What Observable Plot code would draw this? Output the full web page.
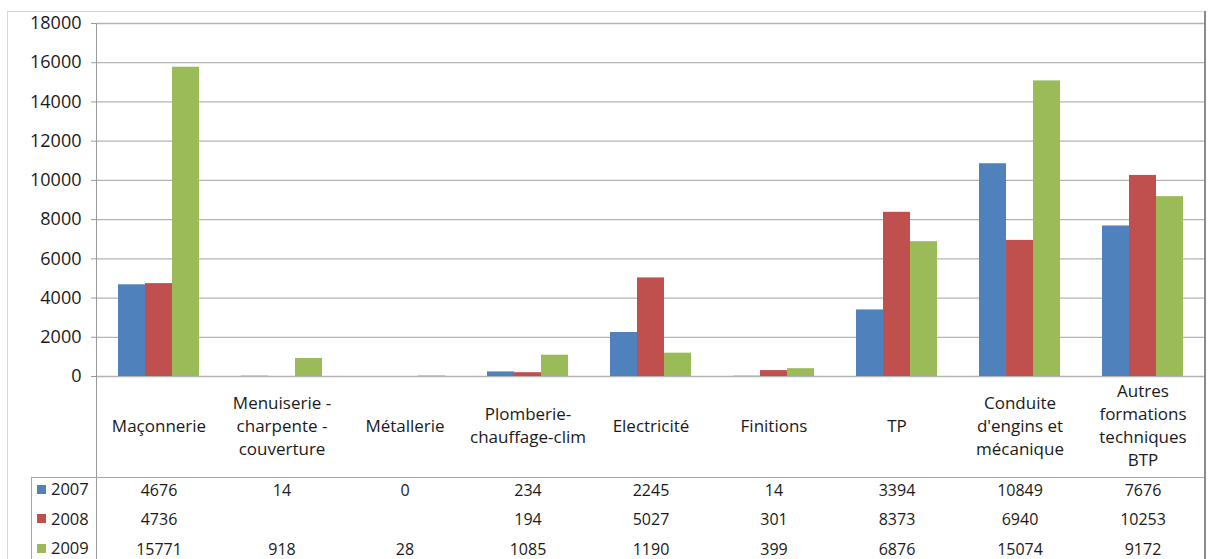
<!DOCTYPE html>
<html>
<head>
<meta charset="utf-8">
<script src="https://cdn.jsdelivr.net/npm/d3@7"></script>
<script src="https://cdn.jsdelivr.net/npm/@observablehq/plot@0.6"></script>
<style>
  html, body { margin: 0; padding: 0; background: #ffffff; }
  #chart { position: relative; width: 1208px; height: 559px; overflow: hidden; font-family: "Open Sans", sans-serif; color: #1a1a1a; }
  #chart svg { position: absolute; left: 0; top: 0; overflow: visible; }
  .line { position: absolute; }
  .legend-row { position: absolute; left: 37px; height: 18px; display: flex; align-items: center; font-size: 16.5px; line-height: 18px; }
  .legend-row span.sw { display: inline-block; width: 9px; height: 9px; margin-right: 5px; }
  #chart svg [aria-label^="y-axis"] line,
  #chart svg [aria-label^="y-axis"] path { stroke: #9a9a9a; }
</style>
</head>
<body>
<div id="chart"></div>
<script>
// Training categories (line breaks are the wrapped label lines)
const categories = [
  "Maçonnerie",
  "Menuiserie -\ncharpente -\ncouverture",
  "Métallerie",
  "Plomberie-\nchauffage-clim",
  "Electricité",
  "Finitions",
  "TP",
  "Conduite\nd'engins et\nmécanique",
  "Autres\nformations\ntechniques\nBTP"
];

const years = ["2007", "2008", "2009"];

// Yearly counts per category (null = no value reported)
const values2007 = [4676, 14, 0, 234, 2245, 14, 3394, 10849, 7676];
const values2008 = [4736, null, null, 194, 5027, 301, 8373, 6940, 10253];
const values2009 = [15771, 918, 28, 1085, 1190, 399, 6876, 15074, 9172];

const yearColors = ["#4f81bd", "#c0504d", "#9bbb59"];
const yTicks = [0, 2000, 4000, 6000, 8000, 10000, 12000, 14000, 16000, 18000];

const series = [values2007, values2008, values2009];
const rows = [];
years.forEach((year, i) => {
  categories.forEach((category, j) => {
    rows.push({category, year, value: series[i][j]});
  });
});

const W = 1208, H = 559;
const marginLeft = 96, marginRight = 4, marginTop = 23, marginBottom = 183;
const rowOffset = 119, rowStep = 29.5;

// One text row of the data table per year, placed under the category labels
const tableRows = years.map((year, i) =>
  Plot.text(rows.filter(d => d.year === year && d.value != null), {
    fx: "category",
    text: d => String(d.value),
    frameAnchor: "bottom",
    dy: rowOffset + i * rowStep,
    fontSize: 16,
    fill: "#1a1a1a"
  })
);

const svg = Plot.plot({
  width: W,
  height: H,
  marginLeft, marginRight, marginTop, marginBottom,
  style: {fontFamily: "Open Sans, sans-serif", fontSize: "18px", color: "#1a1a1a", background: "transparent"},
  fx: {domain: categories, padding: 0, axis: null},
  x: {domain: years, paddingInner: 0, paddingOuter: 0.75, axis: null},
  y: {domain: [0, 18000], ticks: yTicks, tickFormat: d => String(d), tickSize: 6, tickPadding: 10, label: null},
  color: {domain: years, range: yearColors},
  marks: [
    Plot.ruleY(yTicks, {stroke: "#b4b4b4", strokeWidth: 1.3}),
    Plot.barY(rows.filter(d => d.value != null), {fx: "category", x: "year", y: "value", fill: "year"}),
    Plot.text(categories, {
      fx: d => d,
      text: d => d,
      frameAnchor: "bottom",
      dy: 48,
      lineAnchor: "middle",
      lineHeight: 1.35,
      fontSize: 17,
      fill: "#1a1a1a"
    }),
    ...tableRows
  ]
});

const chart = document.getElementById("chart");
chart.appendChild(svg);

// Chart frame and data-table rules
function line(left, top, width, height, color) {
  const el = document.createElement("div");
  el.className = "line";
  Object.assign(el.style, {left: left + "px", top: top + "px", width: width + "px", height: height + "px", background: color});
  chart.appendChild(el);
}
const zeroY = H - marginBottom;
line(7, 11, 1198, 1, "#d6d6d6");            // outer frame top
line(7, 11, 1, H - 11, "#d6d6d6");          // outer frame left
line(marginLeft, marginTop, 1, H - marginTop, "#9a9a9a");  // value axis, continued through the table
line(31, 477, 1174, 1, "#a6a6a6");          // table top
line(31, 477, 1, H - 477, "#a6a6a6");       // table left
line(1204, 11, 2, H - 11, "#8a8a8a");       // outer frame right

// Table row headers with colour keys
years.forEach((year, i) => {
  const row = document.createElement("div");
  row.className = "legend-row";
  row.style.top = (zeroY + rowOffset + i * rowStep - 15) + "px";
  const sw = document.createElement("span");
  sw.className = "sw";
  sw.style.background = yearColors[i];
  row.appendChild(sw);
  row.appendChild(document.createTextNode(year));
  chart.appendChild(row);
});
</script>
</body>
</html>
